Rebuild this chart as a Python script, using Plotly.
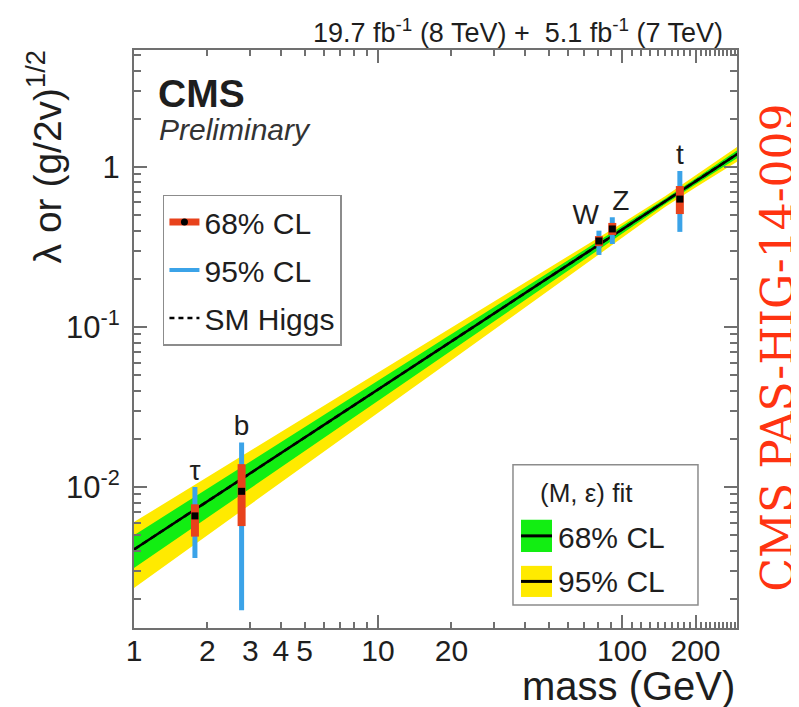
import numpy as np
import plotly.graph_objects as go

# ---------------- data ----------------
particles = ["τ", "b", "W", "Z", "t"]
particle_mass = [1.777, 2.76, 80.4, 91.19, 172.5]
coupling = [0.0066, 0.0094, 0.345, 0.41, 0.63]
cl68_low = [0.0049, 0.0057, 0.32, 0.376, 0.508]
cl68_high = [0.0078, 0.0139, 0.37, 0.447, 0.76]
cl95_low = [0.0036, 0.0017, 0.282, 0.330, 0.393]
cl95_high = [0.0100, 0.0190, 0.400, 0.485, 0.944]
label_pos = ["top center", "top center", "top left", "top right", "top center"]

band_mass = [1, 2, 5, 10, 20, 50, 100, 150, 200, 300]
band95_low = [0.00234, 0.00500, 0.01361, 0.02911, 0.0622, 0.1694, 0.3622, 0.5623, 0.7447, 1.091]
band95_high = [0.00604, 0.01153, 0.02716, 0.05188, 0.0991, 0.2333, 0.4457, 0.6561, 0.8810, 1.352]
band68_low = [0.00312, 0.00644, 0.01675, 0.03459, 0.0714, 0.1858, 0.3828, 0.5848, 0.7762, 1.148]
band68_high = [0.00500, 0.00975, 0.02366, 0.04613, 0.0902, 0.2183, 0.4266, 0.6324, 0.8472, 1.288]

line_mass = [1, 300]
sm_coupling = [0.00407, 1.22]
fit_coupling = [0.00407, 1.22]

x_tick_vals = [1, 2, 3, 4, 5, 10, 20, 100, 200]
x_tick_text = ["1", "2", "3", "4", "5", "10", "20", "100", "200"]
x_major_vals = [1, 10, 100, 200]
x_minor_vals = [6, 7, 8, 9, 30, 40, 50, 60, 70, 80, 90,
                110, 120, 130, 140, 150, 160, 170, 180, 190,
                210, 220, 230, 240, 250, 260, 270, 280, 290]
y_tick_vals = [0.01, 0.1, 1]
y_tick_text = ["10<sup>-2</sup>", "10<sup>-1</sup>", "1"]
y_minor_vals = [0.002, 0.003, 0.004, 0.005, 0.006, 0.007, 0.008, 0.009,
                0.02, 0.03, 0.04, 0.05, 0.06, 0.07, 0.08, 0.09,
                0.2, 0.3, 0.4, 0.5, 0.6, 0.7, 0.8, 0.9, 2, 3, 4, 5]

# ---------------- style ----------------
FONT = "Liberation Sans, Arial, Helvetica, sans-serif"
TXT = "#1e1e1e"
FRAME = "#707070"
YELLOW = "#ffea00"
GREEN = "#12ee12"
RED = "#e8421c"
BLUE = "#3ba3e8"

val = np.array(coupling)
e95p = np.array(cl95_high) - val
e95m = val - np.array(cl95_low)
e68p = np.array(cl68_high) - val
e68m = val - np.array(cl68_low)

fig = go.Figure()

# bands
fig.add_trace(go.Scatter(x=band_mass, y=band95_low, mode="lines", line=dict(width=0, color=YELLOW),
                         showlegend=False, hoverinfo="skip"))
fig.add_trace(go.Scatter(x=band_mass, y=band95_high, mode="lines", line=dict(width=0, color=YELLOW),
                         fill="tonexty", fillcolor=YELLOW, showlegend=False, hoverinfo="skip"))
fig.add_trace(go.Scatter(x=band_mass, y=band68_low, mode="lines", line=dict(width=0, color=GREEN),
                         showlegend=False, hoverinfo="skip"))
fig.add_trace(go.Scatter(x=band_mass, y=band68_high, mode="lines", line=dict(width=0, color=GREEN),
                         fill="tonexty", fillcolor=GREEN, showlegend=False, hoverinfo="skip"))

# fit line and SM
fig.add_trace(go.Scatter(x=line_mass, y=fit_coupling, mode="lines", line=dict(color="black", width=2.5),
                         showlegend=False, hoverinfo="skip"))
fig.add_trace(go.Scatter(x=line_mass, y=sm_coupling, mode="lines",
                         line=dict(color="black", width=2.5, dash="6px,4px"),
                         showlegend=False, hoverinfo="skip"))

# error bars
fig.add_trace(go.Scatter(x=particle_mass, y=coupling, mode="markers",
                         marker=dict(size=1, color="rgba(0,0,0,0)"),
                         error_y=dict(type="data", symmetric=False, array=e95p, arrayminus=e95m,
                                      color=BLUE, thickness=5, width=0),
                         showlegend=False, hoverinfo="skip"))
fig.add_trace(go.Scatter(x=particle_mass, y=coupling, mode="markers",
                         marker=dict(size=1, color="rgba(0,0,0,0)"),
                         error_y=dict(type="data", symmetric=False, array=e68p, arrayminus=e68m,
                                      color=RED, thickness=8, width=0),
                         showlegend=False, hoverinfo="skip"))
fig.add_trace(go.Scatter(x=particle_mass, y=coupling, mode="markers",
                         marker=dict(size=7, color="black", symbol="square"),
                         showlegend=False, hoverinfo="skip"))
# labels
fig.add_trace(go.Scatter(x=particle_mass, y=cl95_high, mode="text", text=particles,
                         textposition=label_pos, textfont=dict(size=28, color=TXT, family=FONT),
                         showlegend=False, hoverinfo="skip"))

# legend entries
fig.add_trace(go.Scatter(x=[None], y=[None], mode="lines+markers", name="68% CL",
                         line=dict(color=RED, width=7), marker=dict(color="black", size=7),
                         legendgroup="a"))
fig.add_trace(go.Scatter(x=[None], y=[None], mode="lines", name="95% CL",
                         line=dict(color=BLUE, width=4), legendgroup="b"))
fig.add_trace(go.Scatter(x=[None], y=[None], mode="lines", name="SM Higgs",
                         line=dict(color="black", width=2.5, dash="5px,4px"), legendgroup="c"))

# helper trace for long tick axis
fig.add_trace(go.Scatter(x=[None], y=[None], xaxis="x2", yaxis="y", showlegend=False, hoverinfo="skip"))

xr = [0, 2.471]
yr = [-2.881, 0.731]

# the page body has an 8px margin, so the figure is sized to the visible area
fig.update_layout(
    width=791, height=699,
    margin=dict(l=126, r=62, t=42, b=79),
    paper_bgcolor="white", plot_bgcolor="white",
    font=dict(family=FONT, color=TXT),
    xaxis=dict(type="log", range=xr, tickmode="array", tickvals=x_tick_vals, ticktext=x_tick_text,
               ticks="inside", ticklen=6, tickwidth=1.5, tickcolor=FRAME,
               showline=True, linecolor=FRAME, linewidth=2, mirror="ticks", showgrid=False,
               tickfont=dict(size=30, color=TXT), ticklabelstandoff=-5,
               minor=dict(tickmode="array", tickvals=x_minor_vals, ticks="inside", ticklen=6,
                          tickwidth=1.5, tickcolor=FRAME, showgrid=False)),
    xaxis2=dict(type="log", range=xr, overlaying="x", anchor="y", side="bottom",
                tickmode="array", tickvals=x_major_vals, ticks="inside", ticklen=13, tickwidth=1.5,
                tickcolor=FRAME, showticklabels=False, showline=False, mirror="ticks", showgrid=False),
    yaxis=dict(type="log", range=yr, tickmode="array", tickvals=y_tick_vals, ticktext=y_tick_text,
               ticks="inside", ticklen=13, tickwidth=1.5, tickcolor=FRAME,
               showline=True, linecolor=FRAME, linewidth=2, mirror="ticks", showgrid=False,
               tickfont=dict(size=31, color=TXT), ticklabelstandoff=6,
               minor=dict(tickmode="array", tickvals=y_minor_vals, ticks="inside", ticklen=7,
                          tickwidth=1.5, tickcolor=FRAME, showgrid=False)),
    legend=dict(x=0.048, y=0.75, xanchor="left", yanchor="top", bgcolor="white",
                bordercolor="#8c8c8c", borderwidth=1.5, font=dict(size=30, color=TXT, family=FONT),
                traceorder="grouped", tracegroupgap=6),
)

ann = []
# axis titles
ann.append(dict(text="mass (GeV)", x=1.0, y=-0.1, xref="paper", yref="paper", xanchor="right",
                yanchor="middle", showarrow=False, font=dict(size=40, color=TXT)))
ann.append(dict(text="λ or (g/2v)<sup>1/2</sup>", x=-0.148, y=1.004, xref="paper", yref="paper",
                xanchor="center", yanchor="top", textangle=-90, showarrow=False,
                font=dict(size=39, color=TXT)))
# header
ann.append(dict(text="19.7 fb<sup>-1</sup> (8 TeV) +  5.1 fb<sup>-1</sup> (7 TeV)", x=0.98, y=1.033,
                xref="paper", yref="paper", xanchor="right", yanchor="middle", showarrow=False,
                font=dict(size=27, color=TXT)))
ann.append(dict(text="<b>CMS</b>", x=0.036, y=0.924, xref="paper", yref="paper", xanchor="left",
                yanchor="middle", showarrow=False, font=dict(size=39, color=TXT)))
ann.append(dict(text="<i>Preliminary</i>", x=0.038, y=0.863, xref="paper", yref="paper", xanchor="left",
                yanchor="middle", showarrow=False, font=dict(size=30, color="#333333")))
# side label
ann.append(dict(text="CMS PAS-HIG-14-009", x=1.068, y=0.485, xref="paper", yref="paper",
                xanchor="center", yanchor="middle", textangle=-90, showarrow=False,
                font=dict(size=44, color="#ff3311", family="DejaVu Serif, serif")))
# fit legend
ann.append(dict(text="(M, ε) fit", x=0.7512, y=0.234, xref="paper", yref="paper", xanchor="center",
                yanchor="middle", showarrow=False, font=dict(size=26, color=TXT)))
ann.append(dict(text="68% CL", x=0.700, y=0.156, xref="paper", yref="paper", xanchor="left",
                yanchor="middle", showarrow=False, font=dict(size=30, color=TXT)))
ann.append(dict(text="95% CL", x=0.700, y=0.0797, xref="paper", yref="paper", xanchor="left",
                yanchor="middle", showarrow=False, font=dict(size=30, color=TXT)))

shapes = [
    dict(type="rect", xref="paper", yref="paper", x0=0.6285, x1=0.9353, y0=0.0399, y1=0.2825,
         line=dict(color="#8c8c8c", width=1.5), fillcolor="white", layer="above"),
    dict(type="rect", xref="paper", yref="paper", x0=0.6418, x1=0.6932, y0=0.1317, y1=0.1872,
         line=dict(width=0), fillcolor=GREEN, layer="above"),
    dict(type="line", xref="paper", yref="paper", x0=0.6418, x1=0.6932, y0=0.1594, y1=0.1594,
         line=dict(color="black", width=3), layer="above"),
    dict(type="rect", xref="paper", yref="paper", x0=0.6418, x1=0.6932, y0=0.0537, y1=0.1075,
         line=dict(width=0), fillcolor=YELLOW, layer="above"),
    dict(type="line", xref="paper", yref="paper", x0=0.6418, x1=0.6932, y0=0.0806, y1=0.0806,
         line=dict(color="black", width=3), layer="above"),
]
fig.update_layout(annotations=ann, shapes=shapes)

fig.write_html("out.html")
